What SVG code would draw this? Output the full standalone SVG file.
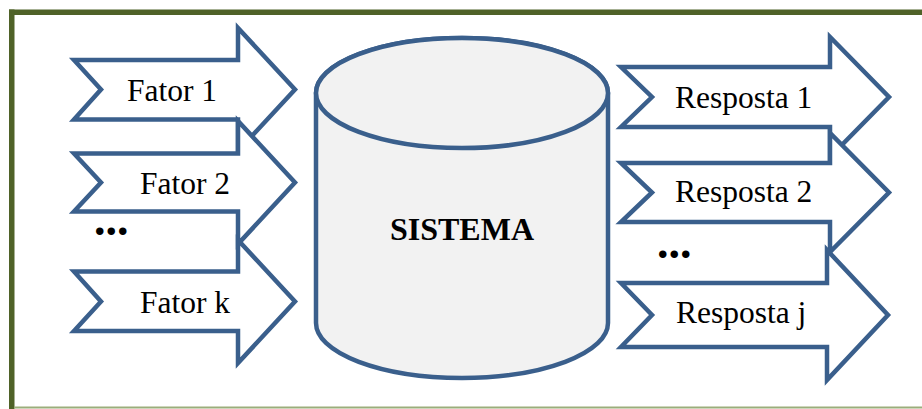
<svg xmlns="http://www.w3.org/2000/svg" width="922" height="409" viewBox="0 0 922 409">
<style>
.arrow{fill:#ffffff;stroke:#3a5f8c;stroke-width:4.5;stroke-linejoin:miter;stroke-miterlimit:10}
.cyl{fill:#f2f2f2;stroke:#3a5f8c;stroke-width:4.5}
.lbl{font-family:"Liberation Serif","Times New Roman",serif;font-size:31.5px;fill:#000000}
.bold{font-family:"Liberation Serif","Times New Roman",serif;font-weight:bold;fill:#000000}
</style>
<rect x="0" y="0" width="922" height="409" fill="#ffffff"/>
<g id="frame">
<rect x="9" y="9.5" width="913" height="5.5" fill="#4f6228"/>
<rect x="9" y="9.5" width="5.5" height="399.5" fill="#4f6228"/>
<rect x="14" y="406.5" width="908" height="2" fill="#9bad7b"/>
</g>
<g id="connectors">
<g id="fator1">
<path class="arrow" d="M74,60 L238,60 L238,28 L295,89.5 L238,151 L238,119.5 L74,119.5 L101,89.5 Z"/>
<text class="lbl" x="127" y="101">Fator 1</text>
</g>
<g id="fator2">
<path class="arrow" d="M74,153.5 L238,153.5 L238,121 L295,182.5 L238,244 L238,211.5 L74,211.5 L101,182.5 Z"/>
<text class="lbl" x="140" y="194">Fator 2</text>
</g>
<g id="fatork">
<path class="arrow" d="M74,271.5 L238,271.5 L238,240 L295,301.5 L238,363 L238,331 L74,331 L101,301.5 Z"/>
<text class="lbl" x="140" y="313">Fator k</text>
</g>
<g id="resposta1">
<path class="arrow" d="M621,67 L830,67 L830,37 L889,97 L830,157 L830,127 L621,127 L652,97 Z"/>
<text class="lbl" x="675" y="108">Resposta 1</text>
</g>
<g id="resposta2">
<path class="arrow" d="M621,163 L830,163 L830,133 L889,192.5 L830,252 L830,222 L621,222 L652,192.5 Z"/>
<text class="lbl" x="675" y="202">Resposta 2</text>
</g>
<g id="respostaj">
<path class="arrow" d="M621,283 L827,283 L827,250 L888,315 L827,380 L827,347 L621,347 L652,315 Z"/>
<text class="lbl" x="676" y="323">Resposta j</text>
</g>
</g>
<g id="dots-left">
<text class="bold" x="94" y="234.5" font-size="46">...</text>
</g>
<g id="dots-right">
<text class="bold" x="657" y="257.5" font-size="46">...</text>
</g>
<g id="sistema">
<path class="cyl" d="M316,93 L316,323 A146,55 0 0 0 608,323 L608,93 A146,55 0 0 0 316,93 Z"/>
<ellipse class="cyl" cx="462" cy="93" rx="146" ry="55"/>
<text class="bold" x="462" y="240" font-size="32" text-anchor="middle">SISTEMA</text>
</g>
</svg>
